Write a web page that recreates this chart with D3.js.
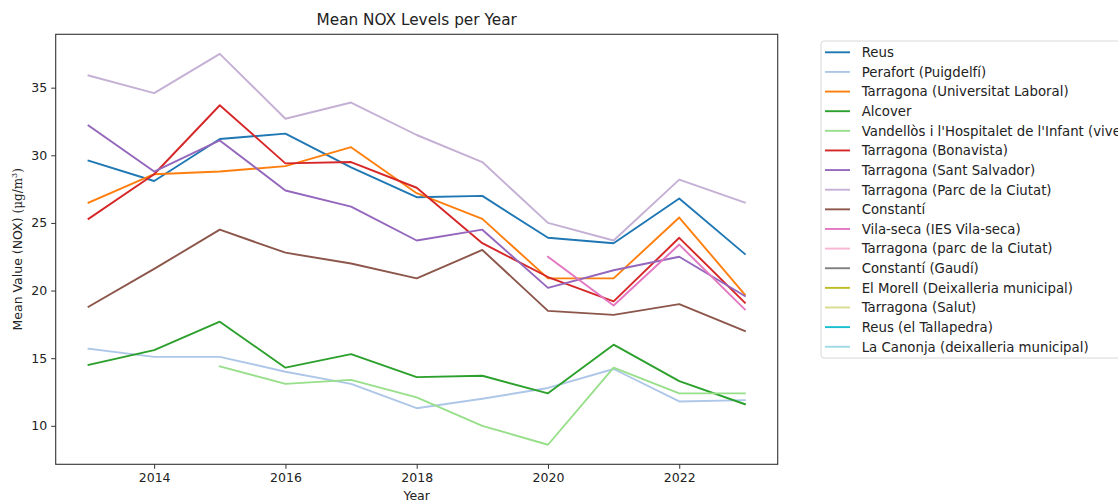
<!DOCTYPE html>
<html>
<head>
<meta charset="utf-8">
<script src="https://cdn.jsdelivr.net/npm/d3@7"></script>
<style>
  html, body { margin: 0; padding: 0; background: #fff; overflow: hidden; }
  svg { display: block; font-family: "DejaVu Sans", sans-serif; }
</style>
</head>
<body>
<svg id="chart" width="1118" height="501"></svg>
<script>
// Years on the x axis
const years = [2013, 2014, 2015, 2016, 2017, 2018, 2019, 2020, 2021, 2022, 2023];

// Station names, in legend order
const stations = [
  "Reus",
  "Perafort (Puigdelfí)",
  "Tarragona (Universitat Laboral)",
  "Alcover",
  "Vandellòs i l'Hospitalet de l'Infant (viver)",
  "Tarragona (Bonavista)",
  "Tarragona (Sant Salvador)",
  "Tarragona (Parc de la Ciutat)",
  "Constantí",
  "Vila-seca (IES Vila-seca)",
  "Tarragona (parc de la Ciutat)",
  "Constantí (Gaudí)",
  "El Morell (Deixalleria municipal)",
  "Tarragona (Salut)",
  "Reus (el Tallapedra)",
  "La Canonja (deixalleria municipal)"
];

const stationColors = [
  "#1f77b4", "#aec7e8", "#ff7f0e", "#2ca02c", "#98df8a", "#d62728", "#9467bd", "#c5b0d5",
  "#8c564b", "#e377c2", "#f7b6d2", "#7f7f7f", "#bcbd22", "#dbdb8d", "#17becf", "#9edae5"
];

// Yearly mean NOX per station (µg/m³); null = no data that year
const reus          = [29.6, 28.1, 31.2, 31.6, 29.1, 26.9, 27.0, 23.9, 23.5, 26.8, 22.7];
const perafort      = [15.7, 15.1, 15.1, 14.0, 13.1, 11.3, 12.0, 12.8, 14.2, 11.8, 11.9];
const univLaboral   = [26.5, 28.6, 28.8, 29.2, 30.6, 27.2, 25.3, 20.9, 20.9, 25.4, 19.7];
const alcover       = [14.5, 15.6, 17.7, 14.3, 15.3, 13.6, 13.7, 12.4, 16.0, 13.3, 11.6];
const vandellos     = [null, null, 14.4, 13.1, 13.4, 12.1, 10.0, 8.6, 14.3, 12.4, 12.4];
const bonavista     = [25.3, 28.6, 33.7, 29.4, 29.5, 27.6, 23.5, 21.0, 19.2, 23.9, 19.1];
const santSalvador  = [32.2, 28.8, 31.1, 27.4, 26.2, 23.7, 24.5, 20.2, 21.5, 22.5, 19.6];
const parcCiutat    = [35.9, 34.6, 37.5, 32.7, 33.9, 31.5, 29.5, 25.0, 23.7, 28.2, 26.5];
const constanti     = [18.8, 21.6, 24.5, 22.8, 22.0, 20.9, 23.0, 18.5, 18.2, 19.0, 17.0];
const vilaSeca      = [null, null, null, null, null, null, null, 22.5, 18.9, 23.4, 18.6];
const parcCiutatLc  = [null, null, null, null, null, null, null, null, null, null, null];
const constantiGaudi= [null, null, null, null, null, null, null, null, null, null, null];
const elMorell      = [null, null, null, null, null, null, null, null, null, null, null];
const salut         = [null, null, null, null, null, null, null, null, null, null, null];
const reusTallapedra= [null, null, null, null, null, null, null, null, null, null, null];
const laCanonja     = [null, null, null, null, null, null, null, null, null, null, null];

const seriesValues = [
  reus, perafort, univLaboral, alcover, vandellos, bonavista, santSalvador, parcCiutat,
  constanti, vilaSeca, parcCiutatLc, constantiGaudi, elMorell, salut, reusTallapedra, laCanonja
];

const xTicks = [2014, 2016, 2018, 2020, 2022];
const yTicks = [10, 15, 20, 25, 30, 35];

const series = stations.map((name, i) => ({
  name,
  color: stationColors[i],
  points: years.map((y, j) => ({ year: y, value: seriesValues[i][j] }))
}));

const svg = d3.select("#chart");
const plot = { left: 55.7, right: 777.7, top: 34.3, bottom: 464.3 };

// Data extent with a 5% margin on each side
const allVals = seriesValues.flat().filter(v => v != null);
const vMin = d3.min(allVals), vMax = d3.max(allVals);
const vPad = (vMax - vMin) * 0.05;
const yPad = (years[years.length - 1] - years[0]) * 0.05;

const x = d3.scaleLinear()
  .domain([years[0] - yPad, years[years.length - 1] + yPad])
  .range([plot.left, plot.right]);
const y = d3.scaleLinear()
  .domain([vMin - vPad, vMax + vPad])
  .range([plot.bottom, plot.top]);

const line = d3.line()
  .defined(d => d.value != null)
  .x(d => x(d.year))
  .y(d => y(d.value));

// Lines
const lines = svg.append("g");
series.forEach(s => {
  lines.append("path")
    .datum(s.points)
    .attr("fill", "none")
    .attr("stroke", s.color)
    .attr("stroke-width", 1.9)
    .attr("stroke-linejoin", "round")
    .attr("stroke-linecap", "square")
    .attr("d", line);
});

// Axes
const xAxis = svg.append("g")
  .attr("transform", `translate(0,${plot.bottom})`)
  .call(d3.axisBottom(x).tickValues(xTicks).tickFormat(d3.format("d")).tickSizeOuter(0).tickSize(4.5).tickPadding(4));
const yAxis = svg.append("g")
  .attr("transform", `translate(${plot.left},0)`)
  .call(d3.axisLeft(y).tickValues(yTicks).tickSizeOuter(0).tickSize(4.5).tickPadding(4));

[xAxis, yAxis].forEach(g => {
  g.select(".domain").remove();
  g.selectAll(".tick line").attr("stroke", "#333").attr("stroke-width", 1);
  g.selectAll(".tick text")
    .attr("fill", "#222")
    .style("font-family", "DejaVu Sans, sans-serif")
    .style("font-size", "12.5px");
});

// Frame around the plotting area
svg.append("rect")
  .attr("x", plot.left).attr("y", plot.top)
  .attr("width", plot.right - plot.left).attr("height", plot.bottom - plot.top)
  .attr("fill", "none").attr("stroke", "#333").attr("stroke-width", 1.1);

// Title and axis labels
svg.append("text")
  .attr("x", (plot.left + plot.right) / 2).attr("y", 25)
  .attr("text-anchor", "middle")
  .attr("fill", "#222")
  .style("font-size", "15.3px")
  .text("Mean NOX Levels per Year");

svg.append("text")
  .attr("x", (plot.left + plot.right) / 2).attr("y", 500)
  .attr("text-anchor", "middle")
  .attr("fill", "#222")
  .style("font-size", "12.5px")
  .text("Year");

const yl = svg.append("text")
  .attr("transform", `translate(22,${(plot.top + plot.bottom) / 2}) rotate(-90)`)
  .attr("text-anchor", "middle")
  .attr("fill", "#222")
  .style("font-size", "12.5px");
yl.append("tspan").text("Mean Value (NOX)  ");
yl.append("tspan").style("font-family", "DejaVu Serif, serif").style("font-size", "12px").text("(μg/m");
yl.append("tspan").style("font-family", "DejaVu Serif, serif").style("font-size", "8px").attr("dy", -5).text("3");
yl.append("tspan").style("font-family", "DejaVu Serif, serif").style("font-size", "12px").attr("dy", 5).text(")");

// Legend
const legend = svg.append("g").attr("transform", "translate(821,41)");
legend.append("rect")
  .attr("x", 0).attr("y", 0)
  .attr("width", 330).attr("height", 317)
  .attr("rx", 3)
  .attr("fill", "#fff")
  .attr("stroke", "#d8d8d8")
  .attr("stroke-width", 1);

const rowH = 19.63;
const items = legend.selectAll("g.item").data(series).join("g")
  .attr("class", "item")
  .attr("transform", (d, i) => `translate(0,${11.3 + i * rowH})`);
items.append("line")
  .attr("x1", 4).attr("x2", 29)
  .attr("y1", 0).attr("y2", 0)
  .attr("stroke", d => d.color)
  .attr("stroke-width", 1.9);
items.append("text")
  .attr("x", 40.7).attr("y", 0)
  .attr("dy", "0.36em")
  .attr("fill", "#222")
  .style("font-size", "13.3px")
  .text(d => d.name);
</script>
</body>
</html>
